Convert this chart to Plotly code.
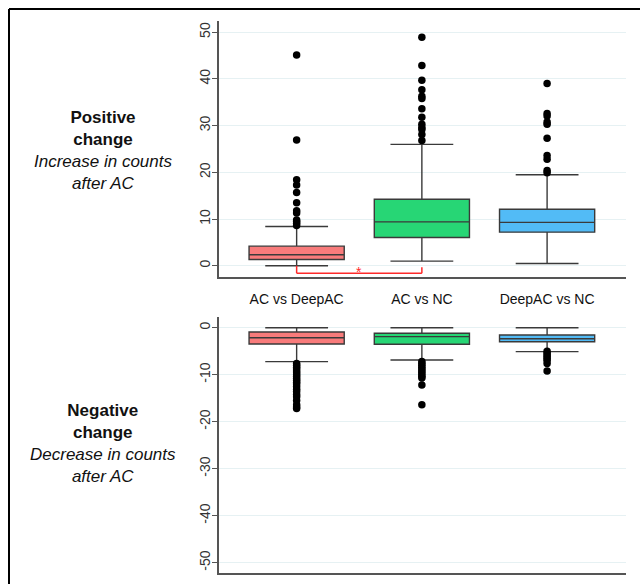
import plotly.graph_objects as go

# ---------------- data ----------------
categories = ["AC vs DeepAC", "AC vs NC", "DeepAC vs NC"]
box_colors = ["#F87B7B", "#27D675", "#52BBF6"]

pos_q1 = [1.35, 6.05, 7.2]
pos_median = [2.35, 9.4, 9.3]
pos_q3 = [4.2, 14.25, 12.1]
pos_lower = [0.0, 1.0, 0.5]
pos_upper = [8.4, 26.0, 19.5]
pos_outliers = [
    [8.6, 9.1, 9.5, 9.8, 11.3, 11.8, 13.5, 15.7, 17.3, 18.4, 26.9, 45.1],
    [26.8, 28.1, 29.2, 29.6, 30.3, 31.8, 33.6, 35.8, 36.3, 37.7, 39.7, 42.9, 48.9],
    [19.9, 20.4, 22.8, 23.6, 27.3, 30.3, 30.8, 32.05, 32.6, 39.0],
]

neg_q1 = [-3.47, -3.53, -2.98]
neg_median = [-2.13, -1.91, -2.34]
neg_q3 = [-0.91, -1.19, -1.55]
neg_lower = [-7.23, -6.87, -5.1]
neg_upper = [0.0, 0.0, 0.0]
neg_outliers = [
    [-7.6, -8.0, -8.4, -8.8, -9.2, -9.6, -10.0, -10.4, -10.8, -11.2, -11.6, -12.0,
     -12.5, -13.1, -13.6, -14.2, -14.7, -15.5, -16.4, -16.9, -17.2],
    [-7.2, -7.6, -8.0, -8.4, -8.8, -9.2, -9.6, -10.0, -10.4, -10.7, -12.2, -16.4],
    [-5.0, -5.4, -5.8, -6.2, -6.6, -7.0, -7.6, -9.2],
]

pos_ticks = [0, 10, 20, 30, 40, 50]
pos_ticktext = ["0", "10", "20", "30", "40", "50"]
neg_ticks = [0, -10, -20, -30, -40, -50]
neg_ticktext = ["0", "-10", "-20", "-30", "-40", "-50"]

# significance bracket between categories 0 and 1 (top panel)
sig_pair = [0, 1]
sig_level = -1.6
sig_ends = [0.0, -0.3]
sig_label = "*"

FONT = "Liberation Sans, Arial, Helvetica, sans-serif"
W, H = 640, 584
LINE = "#3a3a3a"
GRID = "#e6f1f3"
AXIS = "#555555"

fig = go.Figure()

for panel, (q1, med, q3, lo, up, outs) in enumerate([
        (pos_q1, pos_median, pos_q3, pos_lower, pos_upper, pos_outliers),
        (neg_q1, neg_median, neg_q3, neg_lower, neg_upper, neg_outliers)]):
    xa = "x" if panel == 0 else "x2"
    ya = "y" if panel == 0 else "y2"
    for i, cat in enumerate(categories):
        fig.add_trace(go.Box(
            x=[i], q1=[q1[i]], median=[med[i]], q3=[q3[i]],
            lowerfence=[lo[i]], upperfence=[up[i]],
            width=0.76, whiskerwidth=0.66,
            fillcolor=box_colors[i], line=dict(color=LINE, width=1.4),
            boxpoints=False, showlegend=False, xaxis=xa, yaxis=ya,
            hoverinfo="skip",
        ))
        fig.add_trace(go.Scatter(
            x=[i] * len(outs[i]), y=outs[i], mode="markers",
            marker=dict(color="black", size=7.5),
            showlegend=False, xaxis=xa, yaxis=ya, hoverinfo="skip",
        ))

xdom = [219 / W, 626 / W]
top_dom = [1 - 277 / H, 1 - 21 / H]
bot_dom = [1 - 573 / H, 1 - 316.7 / H]

common_x = dict(domain=xdom, range=[-0.62, 2.63], showline=True, linecolor=AXIS,
                linewidth=1.5, showgrid=False, zeroline=False, ticks="")
common_y = dict(showline=True, linecolor=AXIS, linewidth=1.5, showgrid=True,
                gridcolor=GRID, gridwidth=1.2, zeroline=False, ticks="outside",
                ticklen=5, tickcolor=AXIS, tickangle=-90, ticklabelstandoff=-3,
                tickfont=dict(family=FONT, size=14, color="#333333"))

fig.update_layout(
    width=W, height=H,
    margin=dict(l=0, r=0, t=0, b=0),
    paper_bgcolor="white", plot_bgcolor="white",
    font=dict(family=FONT),
    xaxis=dict(**common_x, anchor="y", tickvals=[0, 1, 2], ticktext=categories,
               tickfont=dict(family=FONT, size=14, color="#111111"),
               ticklabelstandoff=8),
    yaxis=dict(**common_y, domain=top_dom, range=[-2.4, 52.4], tickvals=pos_ticks,
               ticktext=pos_ticktext, anchor="x"),
    xaxis2=dict(**common_x, anchor="y2", showticklabels=False),
    yaxis2=dict(**common_y, domain=bot_dom, range=[-52.2, 2.34], tickvals=neg_ticks,
                ticktext=neg_ticktext, anchor="x2"),
)

# significance bracket
red = "#FF2A2A"
fig.add_shape(type="line", xref="x", yref="y", x0=sig_pair[0], x1=sig_pair[0],
              y0=sig_ends[0], y1=sig_level, line=dict(color=red, width=1.5))
fig.add_shape(type="line", xref="x", yref="y", x0=sig_pair[1], x1=sig_pair[1],
              y0=sig_ends[1], y1=sig_level, line=dict(color=red, width=1.5))
fig.add_shape(type="line", xref="x", yref="y", x0=sig_pair[0], x1=sig_pair[1],
              y0=sig_level, y1=sig_level, line=dict(color=red, width=1.5))
fig.add_annotation(x=(sig_pair[0] + sig_pair[1]) / 2, y=-1.35, xref="x", yref="y",
                   text=sig_label, showarrow=False, xanchor="center", yanchor="middle",
                   font=dict(family=FONT, size=14, color=red))

# frame
fig.add_shape(type="line", xref="paper", yref="paper", x0=9 / W, x1=9 / W,
              y0=-0.1, y1=1 - 9 / H, line=dict(color="black", width=2))
fig.add_shape(type="line", xref="paper", yref="paper", x0=9 / W, x1=1.1,
              y0=1 - 9 / H, y1=1 - 9 / H, line=dict(color="black", width=2))

# side labels
fig.add_annotation(x=103 / W, y=1 - 150 / H, xref="paper", yref="paper",
                   xanchor="center", yanchor="middle",
                   text="<b>Positive</b><br><b>change</b><br><i>Increase in counts</i><br><i>after AC</i>",
                   showarrow=False, align="center",
                   font=dict(family=FONT, size=17, color="#111111"))
fig.add_annotation(x=103 / W, y=1 - 443 / H, xref="paper", yref="paper",
                   xanchor="center", yanchor="middle",
                   text="<b>Negative</b><br><b>change</b><br><i>Decrease in counts</i><br><i>after AC</i>",
                   showarrow=False, align="center",
                   font=dict(family=FONT, size=17, color="#111111"))

fig.write_html("out.html")
